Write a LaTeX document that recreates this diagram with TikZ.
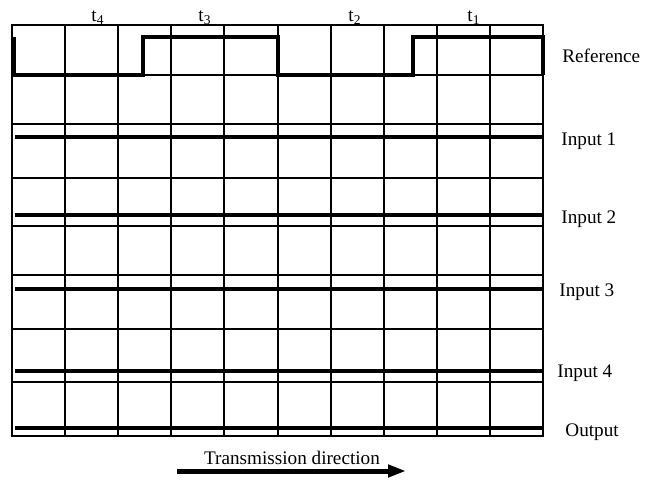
\documentclass[tikz,border=0pt]{standalone}
\usepackage{fontspec}
\setmainfont{Liberation Serif}
\usetikzlibrary{arrows.meta, positioning}

\begin{document}
\begin{tikzpicture}[
  x=0.5pt, y=-0.5pt,
  gridline/.style={line width=0.75pt, black},
  wave/.style={line width=2pt, black, line join=miter},
  sig/.style={anchor=base west, inner sep=0pt, font=\fontsize{9.6}{11}\selectfont},
  slot/.style={anchor=base, inner sep=0pt, font=\fontsize{9.6}{11}\selectfont},
  dirarrow/.style={-{Triangle[length=9pt, width=6pt]}, line width=2.5pt, black}
]
\useasboundingbox (0,0) rectangle (647,480);

% grid
\draw[gridline] (12,25) rectangle (543,436);
\draw[gridline] (65,25) -- (65,436) (118,25) -- (118,436) (171,25) -- (171,436)
  (224,25) -- (224,436) (278,25) -- (278,436) (331,25) -- (331,436)
  (384,25) -- (384,436) (437,25) -- (437,436) (490,25) -- (490,436);
\draw[gridline] (12,75) -- (543,75) (12,124) -- (543,124) (12,178) -- (543,178)
  (12,226) -- (543,226) (12,275) -- (543,275) (12,329) -- (543,329)
  (12,382) -- (543,382);

% reference signal
\draw[wave] (14,37) -- (14,75) -- (143,75) -- (143,37) -- (278,37) -- (278,75)
  -- (413,75) -- (413,37) -- (543,37) -- (543,75);

% inputs and output
\draw[wave] (15,137) -- (543,137);
\draw[wave] (15,215) -- (543,215);
\draw[wave] (15,289) -- (543,289);
\draw[wave] (15,371) -- (543,371);
\draw[wave] (15,428) -- (543,428);

\node[sig] (refl) at (562,63) {Reference};
\node[sig] (in1) at (561,146) {Input 1};
\node[sig] (in2) at (561,224) {Input 2};
\node[sig] (in3) at (559,297) {Input 3};
\node[sig] (in4) at (557,377) {Input 4};
\node[sig] (outl) at (565,436) {Output};

\node[slot] (t4) at (98,22) {t\textsubscript{4}};
\node[slot] (t3) at (205,22) {t\textsubscript{3}};
\node[slot] (t2) at (355,22) {t\textsubscript{2}};
\node[slot] (t1) at (474,22) {t\textsubscript{1}};

% direction
\coordinate (dirA) at (177,471);
\coordinate (dirB) at (406,471);
\draw[dirarrow] (dirA) -- (dirB);
\node[slot] (dirtxt) at (292,464) {Transmission direction};
\end{tikzpicture}
\end{document}
